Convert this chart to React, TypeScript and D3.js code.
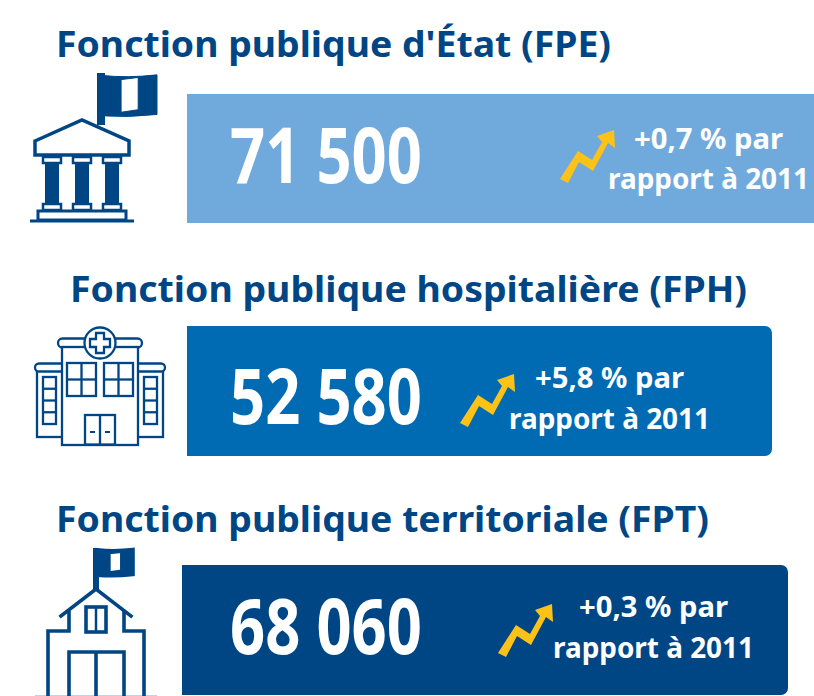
import React from "react";
import * as d3 from "d3";

const titles = ["Fonction publique d'État (FPE)", "Fonction publique hospitalière (FPH)", "Fonction publique territoriale (FPT)"];
const counts = ["71 500", "52 580", "68 060"];
const changes = ["+0,7 % par", "+5,8 % par", "+0,3 % par"];
const reference = "rapport à 2011";
const keys = ["FPE", "FPH", "FPT"];
const colours = ["#70aadd", "#006ab3", "#004685"];
const NAVY = "#004685";
const YEL = "#fdc218";
const FONT = "'Noto Sans', sans-serif";

const layout: Record<string, any> = {
  FPE: { tx: 56, tw: 555, ty: 57, bx: 187, by: 94, bw: 640, bh: 129, nx: 230, ny: 182.5, ax: 20, ay: 20, cx: 708.5, c1: 148.5, c2: 189 },
  FPH: { tx: 70, tw: 677, ty: 302, bx: 187, by: 326, bw: 585, bh: 130, nx: 230, ny: 423.5, ax: -80, ay: 264, cx: 609.5, c1: 388, c2: 429 },
  FPT: { tx: 56, tw: 653, ty: 531.5, bx: 182, by: 565, bw: 606, bh: 130, nx: 230, ny: 653.5, ax: -42, ay: 494, cx: 653.5, c1: 616.5, c2: 658 },
};

const arrowPts: [number, number][] = [[20, 69], [38, 41], [52, 50], [62, 32], [57, 26], [74, 20], [75, 38], [68, 33], [53, 61], [39, 52], [28, 73]];
const arrowLine = d3.line().curve(d3.curveLinearClosed);

function Flag({ x, y, w, h, a, b }: { x: number; y: number; w: number; h: number; a: number; b: number }) {
  const outline = `M${x},${y + 0.03 * h} Q${x + w / 2},${y + 0.1 * h} ${x + w},${y + 0.02 * h} L${x + w},${y + 0.94 * h} Q${x + w / 2},${y + 1.02 * h} ${x},${y + 0.97 * h} Z`;
  return (
    <g>
      <path d={outline} fill={NAVY} />
      <path d={`M${x + a * w},${y + 0.13 * h} L${x + b * w},${y + 0.08 * h} L${x + b * w},${y + 0.83 * h} L${x + a * w},${y + 0.89 * h} Z`} fill="#fff" />
    </g>
  );
}

function StateIcon() {
  const cols = [52, 82, 112];
  return (
    <g fill="none" stroke={NAVY}>
      <rect x={97} y={73} width={8} height={52} fill={NAVY} stroke="none" />
      <Flag x={100} y={74} w={57} h={43} a={0.37} b={0.67} />
      <path d="M35,141 L82,120 L129,141 L129,155 L35,155 Z" fill="#fff" strokeWidth={3.5} />
      {cols.map((c) => (
        <g key={c}>
          <rect x={c - 7} y={160} width={14} height={47} fill={NAVY} stroke="none" />
          <rect x={c - 9} y={157} width={18} height={6} fill="#fff" strokeWidth={2.5} />
          <rect x={c - 9} y={204} width={18} height={6} fill="#fff" strokeWidth={2.5} />
        </g>
      ))}
      <rect x={38} y={211} width={88} height={9} fill="#fff" strokeWidth={3} />
      <line x1={30} x2={134} y1={221} y2={221} strokeWidth={3} />
    </g>
  );
}

function HospitalIcon() {
  const win = (x: number, y: number, w: number, h: number, rows: number, colsN: number) => (
    <g>
      <rect x={x} y={y} width={w} height={h} />
      {d3.range(1, rows).map((i) => <line key={i} x1={x} x2={x + w} y1={y + (h * i) / rows} y2={y + (h * i) / rows} />)}
      {d3.range(1, colsN).map((i) => <line key={i} y1={y} y2={y + h} x1={x + (w * i) / colsN} x2={x + (w * i) / colsN} />)}
    </g>
  );
  return (
    <g fill="#fff" stroke={NAVY} strokeWidth={2.3}>
      <rect x={37} y={370} width={126} height={67} />
      <rect x={35} y={363.5} width={130} height={8} rx={4} />
      <rect x={58} y={338.5} width={84} height={9} rx={4.5} />
      <rect x={62} y={347} width={76} height={98} />
      <circle cx={100} cy={343} r={15.5} />
      <path d="M96,333 h8 v6 h6 v8 h-6 v6 h-8 v-6 h-6 v-8 h6 Z" />
      {win(67, 363, 29, 33, 2, 2)}
      {win(104, 363, 29, 33, 2, 2)}
      {win(43, 377, 13, 47, 4, 1)}
      {win(144, 377, 13, 47, 4, 1)}
      <rect x={85} y={415} width={30} height={29.5} />
      <line x1={100} x2={100} y1={415} y2={444} />
      <path d="M90,432 h5 M105,432 h5" strokeWidth={2} />
    </g>
  );
}

function SchoolIcon() {
  return (
    <g fill="none" stroke={NAVY} strokeWidth={3.6}>
      <line x1={35} x2={157} y1={695.5} y2={695.5} stroke="#c5d2df" strokeWidth={1} />
      <rect x={93} y={548} width={6} height={42} fill={NAVY} stroke="none" />
      <Flag x={97} y={549} w={36} h={27} a={0.33} b={0.69} />
      <path d="M61,616 L96,589 L131,616" strokeLinecap="square" />
      <path d="M69,611 V631 H48 V696 M124,611 V631 H144 V696" />
      <rect x={86} y={607} width={20} height={25} />
      <line x1={96} x2={96} y1={607} y2={632} strokeWidth={2.5} />
      <path d="M69,696 V652 H124 V696 M96,652 V696" />
    </g>
  );
}

export default function App() {
  return (
    <svg width={814} height={696} style={{ position: "absolute", left: 0, top: 0, background: "#fff" }} fontFamily={FONT}>
      {keys.map((k, i) => {
        const l = layout[k];
        return (
          <g key={k}>
            <text x={l.tx} y={l.ty} fontSize={36} fontWeight={700} fill={NAVY} textLength={l.tw} lengthAdjust="spacingAndGlyphs">{titles[i]}</text>
            <rect x={l.bx} y={l.by} width={l.bw} height={l.bh} rx={7} fill={colours[i]} />
            <rect x={l.bx} y={l.by} width={12} height={l.bh} fill={colours[i]} />
            <text x={l.nx} y={l.ny} fontSize={77} fontWeight={700} fill="#fff" textLength={192} lengthAdjust="spacingAndGlyphs">{counts[i]}</text>
            <path d={arrowLine(arrowPts.map(([x, y]) => [x + l.ax + 520, y + l.ay + 90]))!} fill={YEL} />
            <text x={l.cx} y={l.c1} fontSize={28} fontWeight={700} fill="#fff" textAnchor="middle" textLength={149} lengthAdjust="spacingAndGlyphs">{changes[i]}</text>
            <text x={l.cx} y={l.c2} fontSize={28} fontWeight={700} fill="#fff" textAnchor="middle" textLength={201} lengthAdjust="spacingAndGlyphs">{reference}</text>
          </g>
        );
      })}
      <StateIcon />
      <HospitalIcon />
      <SchoolIcon />
    </svg>
  );
}
